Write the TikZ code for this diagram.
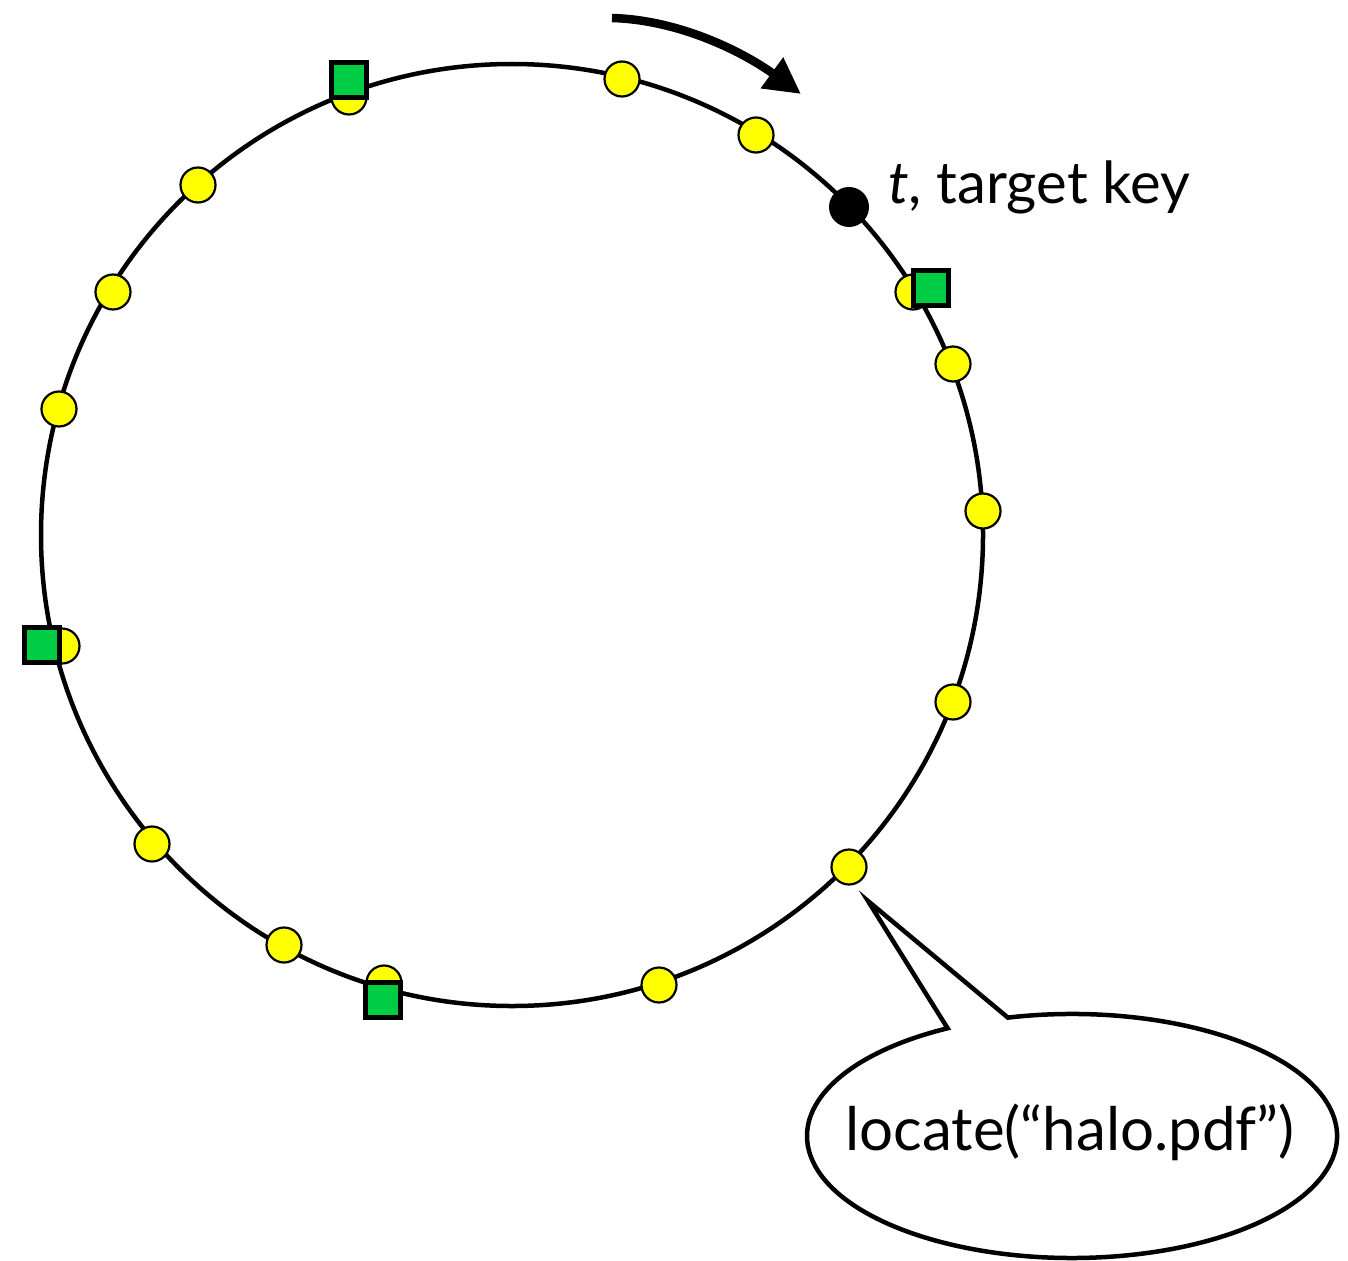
\documentclass[tikz,border=0pt]{standalone}
\usepackage{fontspec}
\setmainfont{Lato}
\usetikzlibrary{arrows.meta}
\definecolor{ringyellow}{RGB}{255,255,0}
\definecolor{ringgreen}{RGB}{0,204,68}
\begin{document}
\begin{tikzpicture}[x=1pt,y=-1pt,
  peer/.style={circle, draw=black, line width=2.2pt, fill=ringyellow, minimum size=35pt, inner sep=0pt},
  holder/.style={rectangle, draw=black, line width=4.5pt, fill=ringgreen, minimum size=35pt, inner sep=0pt},
  keydot/.style={circle, fill=black, minimum size=40pt, inner sep=0pt},
  lbl/.style={font=\fontsize{60}{72}\selectfont, inner sep=0pt},
  thick line/.style={line width=4.5pt}]
\useasboundingbox (0,0) rectangle (1348,1260);
\fill[white] (0,0) rectangle (1348,1260);
% ring
\node[circle, draw, thick line, minimum size=942pt, inner sep=0pt] (ring) at (512,535) {};
% direction arrow
\coordinate (arrS) at (612,18);
\coordinate (arrE) at (801,94);
\draw[line width=8.5pt, -{Triangle[length=36pt,width=36pt]}] (arrS) .. controls (682,20) and (746,54) .. (arrE);
% peers
\node[peer] (p1) at (349,97) {};
\node[peer] (p2) at (622,79) {};
\node[peer] (p3) at (756,135) {};
\node[peer] (p4) at (913,292) {};
\node[peer] (p5) at (953,364) {};
\node[peer] (p6) at (983,511) {};
\node[peer] (p7) at (953,702) {};
\node[peer] (p8) at (849,867) {};
\node[peer] (p9) at (659,985) {};
\node[peer] (p10) at (384,983) {};
\node[peer] (p11) at (284,945) {};
\node[peer] (p12) at (152,844) {};
\node[peer] (p13) at (62,646) {};
\node[peer] (p14) at (59,409) {};
\node[peer] (p15) at (113,292) {};
\node[peer] (p16) at (198,185) {};
% replica holders
\node[holder] (s1) at (349,80) {};
\node[holder] (s2) at (931,288) {};
\node[holder] (s3) at (42,645) {};
\node[holder] (s4) at (383,1000) {};
% target key
\node[keydot] (key) at (849,207) {};
\node[lbl, font=\fontsize{58}{70}\selectfont, anchor=base west] (keylbl) at (888,204) {\textit{t}, target key};
% callout
\coordinate (tip) at (868,901);
\draw[line width=4.5pt, line join=miter, fill=white]
  (1007.9,1017.6) arc[start angle=256, end angle=602, x radius=265, y radius=122]
  -- (tip) -- cycle;
\node[lbl, anchor=base] (query) at (1070,1150) {locate(“halo.pdf”)};
\end{tikzpicture}
\end{document}
